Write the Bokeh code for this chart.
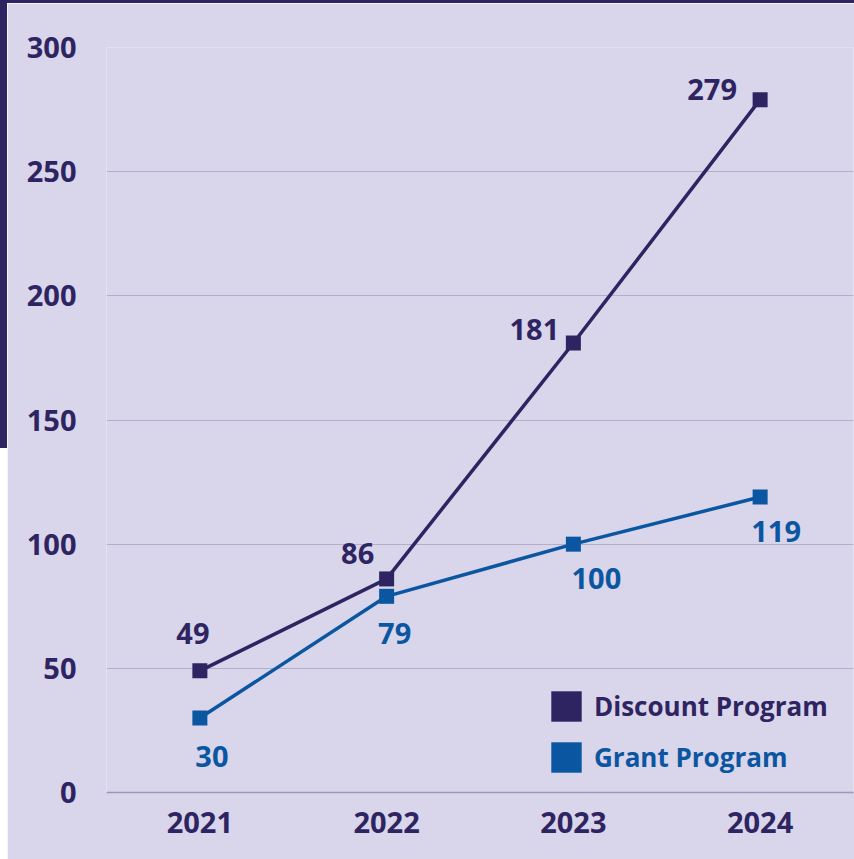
from bokeh.plotting import figure
from bokeh.models import (ColumnDataSource, FactorRange, FixedTicker, Legend, LegendItem, Div)
from bokeh.layouts import column, row
from bokeh.core.properties import value
from bokeh.embed import file_html
from bokeh.resources import INLINE

# ---- data ----
years = ["2021", "2022", "2023", "2024"]
discount = [49, 86, 181, 279]
grant = [30, 79, 100, 119]
y_ticks = [0, 50, 100, 150, 200, 250, 300]

# label offsets (screen px) - presentation only
disc_dx = [-7, -29, -39, -48]
disc_dy = [-37, -25, -14, -10]
grant_dx = [12, 8, 23, 16]
grant_dy = [38, 37, 34, 35]

DARK = "#2e2462"
BLUE = "#0b56a1"
BG = "#d9d5ea"
GRID = "#b4aecb"
FONT = "Open Sans"

p = figure(width=847, height=856, x_range=FactorRange(factors=years, range_padding=0),
           y_range=(0, 300), output_backend="svg", toolbar_location=None,
           background_fill_color=BG, border_fill_color=BG,
           min_border_left=99, min_border_right=1, min_border_top=44, min_border_bottom=67)
p.outline_line_color = None
p.xgrid.grid_line_color = None
p.ygrid.grid_line_color = GRID
p.ygrid.grid_line_width = 1
p.yaxis.ticker = FixedTicker(ticks=y_ticks)

for ax in (p.xaxis[0], p.yaxis[0]):
    ax.major_tick_line_color = None
    ax.minor_tick_line_color = None
    ax.major_label_text_font = FONT
    ax.major_label_text_font_style = "bold"
    ax.major_label_text_font_size = "29px"
    ax.major_label_text_color = DARK
p.yaxis.axis_line_color = None
p.yaxis.major_label_standoff = 24
p.xaxis.axis_line_color = "#9d97c0"
p.xaxis.axis_line_width = 1.5
p.xaxis.major_label_standoff = 13

src_d = ColumnDataSource(dict(x=years, y=discount, t=[str(v) for v in discount],
                              dx=disc_dx, dy=disc_dy))
src_g = ColumnDataSource(dict(x=years, y=grant, t=[str(v) for v in grant],
                              dx=grant_dx, dy=grant_dy))

p.line("x", "y", source=src_d, line_color=DARK, line_width=3.5)
p.line("x", "y", source=src_g, line_color=BLUE, line_width=3.5)
p.scatter("x", "y", source=src_d, marker="square", size=15, fill_color=DARK, line_color=None)
p.scatter("x", "y", source=src_g, marker="square", size=15, fill_color=BLUE, line_color=None)

for src, col in ((src_d, DARK), (src_g, BLUE)):
    p.text("x", "y", text="t", source=src, x_offset="dx", y_offset="dy",
           text_align="center", text_baseline="middle", text_font=value(FONT),
           text_font_style="bold", text_font_size="29px", text_color=col)

# legend proxies (drawn off-range so only the legend swatch shows)
qd = p.quad(left=[years[0]], right=[years[0]], top=[-50], bottom=[-60],
            fill_color=DARK, line_color=None)
qg = p.quad(left=[years[0]], right=[years[0]], top=[-50], bottom=[-60],
            fill_color=BLUE, line_color=None)

for r, label, col, loc in ((qd, "Discount Program", DARK, (441, 67)),
                           (qg, "Grant Program", BLUE, (441, 16))):
    lg = Legend(items=[LegendItem(label=label, renderers=[r])], location=loc,
                glyph_width=38, glyph_height=38, label_standoff=9, padding=0, margin=0,
                border_line_color=None, background_fill_alpha=0,
                label_text_font=FONT, label_text_font_style="bold",
                label_text_font_size="26px", label_text_color=col, label_height=38)
    p.add_layout(lg)

top_strip = Div(text="", width=854, height=3, margin=0,
                styles={"background-color": DARK})
left_strip = Div(text="", width=7, height=856, margin=0,
                 styles={"background": f"linear-gradient(to bottom, {DARK} 0px, {DARK} 445px, #ffffff 445px, #ffffff 856px)"})
layout = column(top_strip, row(left_strip, p, spacing=0), spacing=0)

open("out.html", "w").write(file_html(layout, INLINE))
